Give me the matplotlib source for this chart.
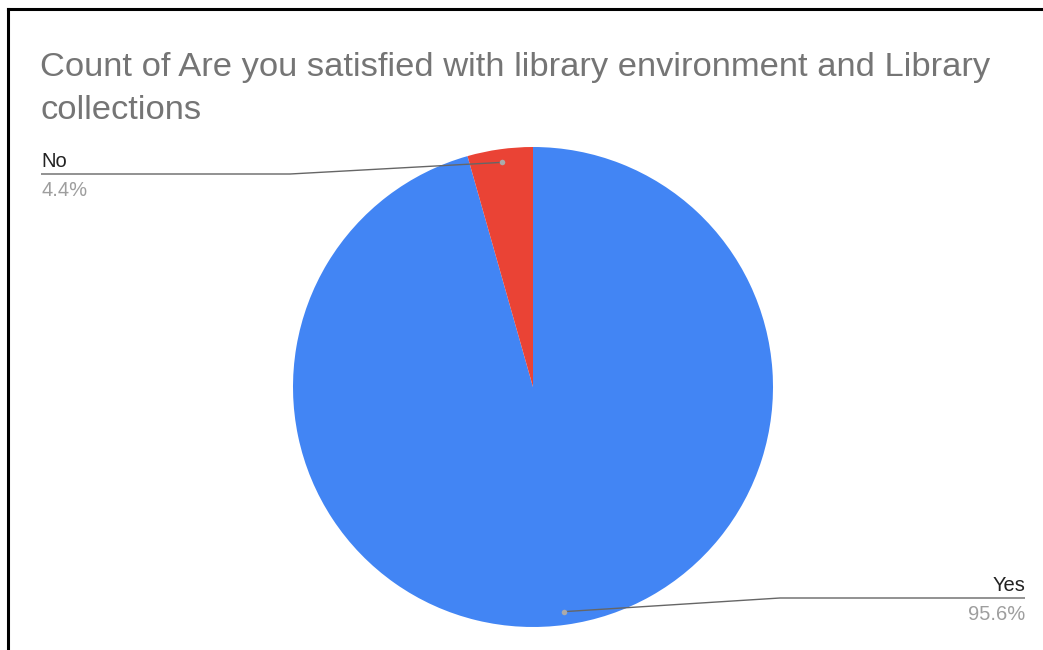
import numpy as np
import matplotlib
matplotlib.use("Agg")
import matplotlib.pyplot as plt
from matplotlib.lines import Line2D

title_lines = ["Count of Are you satisfied with library environment and Library", "collections"]
categories = ["Yes", "No"]
percents = [95.6, 4.4]
colors = ["#4285F4", "#EA4335"]

W, H = 1043, 650
fig = plt.figure(figsize=(W / 100, H / 100), dpi=100)
ax = fig.add_axes([0, 0, 1, 1])

cx, cy, r = 533, H - 387, 240
wedges, _ = ax.pie(percents, colors=colors, startangle=90, counterclock=False,
                   radius=r, center=(cx, cy), frame=True,
                   wedgeprops=dict(linewidth=0))
ax.set_xlim(0, W)
ax.set_ylim(0, H)
ax.set_aspect("equal")
ax.axis("off")

font = "Liberation Sans"
# title
ax.text(40, H - 76, title_lines[0], fontsize=24.8, color="#757575", family=font, va="baseline", ha="left")
ax.text(40, H - 119, title_lines[1], fontsize=24.8, color="#757575", family=font, va="baseline", ha="left")

# leader lines and labels
elbows = {"No": (290, H - 174), "Yes": (780, H - 598)}
ends = {"No": 41, "Yes": 1025}
for w, cat, pct in zip(wedges, categories, percents):
    mid = np.deg2rad((w.theta1 + w.theta2) / 2)
    px, py = cx + 0.945 * r * np.cos(mid), cy + 0.945 * r * np.sin(mid)
    ex, ey = elbows[cat]
    xe = ends[cat]
    ax.plot([px, ex, xe], [py, ey, ey], color="#666666", lw=1.0, solid_capstyle="butt")
    ax.plot([px], [py], "o", ms=4, color="#aaaaaa", mec="none")
    ha = "left" if xe < ex else "right"
    ax.text(xe, ey + 7, cat, fontsize=14.5, color="#222222", family=font, ha=ha, va="baseline")
    ax.text(xe, ey - 22, f"{pct:.1f}%", fontsize=14.5, color="#9e9e9e", family=font, ha=ha, va="baseline")

# frame border (top and left)
fig.add_artist(Line2D([7.5 / W, 1], [1 - 9 / H, 1 - 9 / H], color="black", lw=2.2, transform=fig.transFigure))
fig.add_artist(Line2D([7.5 / W, 7.5 / W], [0, 1 - 9 / H], color="black", lw=2.2, transform=fig.transFigure))

fig.savefig("out.png", dpi=100, facecolor="white")
